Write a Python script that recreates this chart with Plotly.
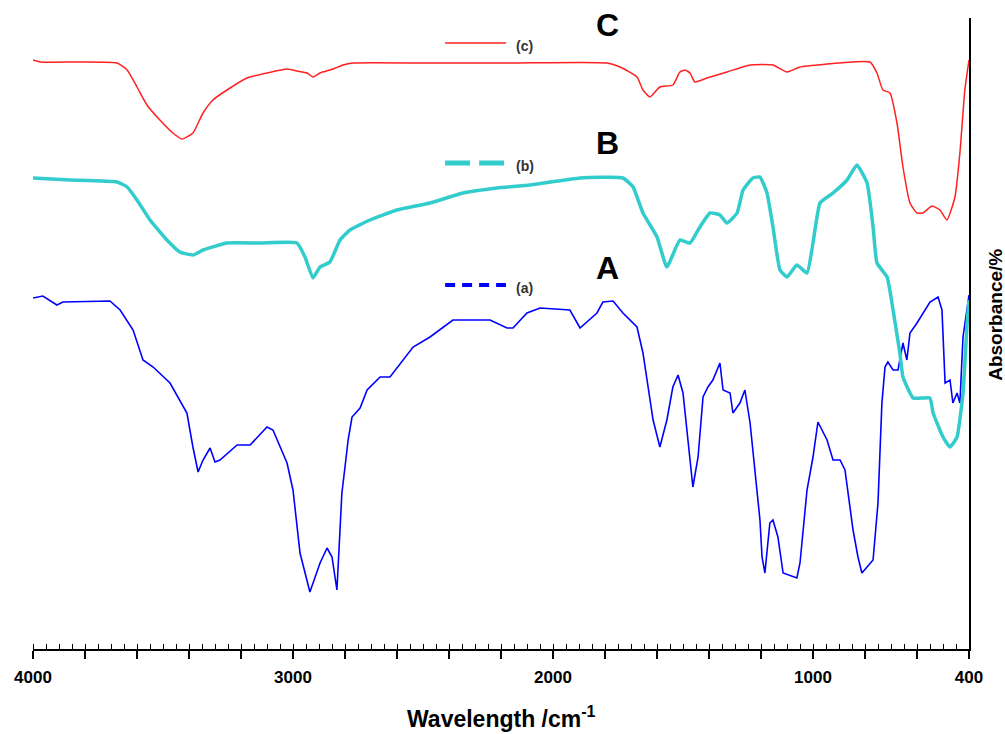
import plotly.graph_objects as go

# ---- data (wavenumber, cm-1) and relative absorbance (a.u.) ----
wn_c = [4000, 3973, 3677, 3638, 3600, 3562, 3512, 3462, 3427, 3385, 3346, 3308, 3254, 3177, 3100,
        3023, 2985, 2946, 2923, 2896, 2846, 2808, 2769, 2485, 2165, 1792, 1742, 1677, 1654, 1627,
        1589, 1539, 1512, 1492, 1473, 1454, 1408, 1331, 1242, 1154, 1100, 1050, 946, 846, 781,
        754, 731, 704, 677, 654, 627, 600, 577, 542, 512, 485, 454, 435, 416, 400]
ab_c = [589, 587, 586, 579, 562, 544, 529, 516, 510, 516, 536, 549, 559, 571, 576,
        580, 578, 576, 572, 576, 580, 584, 586, 586, 586, 586, 582, 572, 559, 552,
        562, 564, 577, 579, 576, 567, 571, 577, 584, 584, 577, 582, 585, 587, 587,
        576, 559, 556, 526, 482, 446, 436, 436, 443, 439, 429, 452, 496, 559, 589]

wn_b = [4000, 3858, 3677, 3638, 3600, 3550, 3485, 3435, 3385, 3346, 3254, 3127, 2985, 2954, 2923,
        2896, 2858, 2819, 2781, 2704, 2600, 2473, 2346, 2215, 2089, 1896, 1731, 1692, 1654, 1600,
        1562, 1512, 1473, 1435, 1396, 1358, 1331, 1292, 1269, 1231, 1204, 1177, 1154, 1127, 1100,
        1062, 1023, 1000, 973, 923, 869, 831, 792, 769, 754, 715, 692, 666, 654, 615,
        577, 550, 538, 500, 473, 446, 423, 408, 400]
ab_b = [471, 469, 467, 462, 449, 429, 409, 397, 394, 399, 406, 406, 406, 392, 371,
        382, 387, 409, 419, 429, 439, 446, 456, 461, 464, 471, 471, 462, 436, 412,
        382, 409, 406, 422, 436, 434, 426, 436, 459, 471, 472, 456, 422, 379, 372,
        384, 376, 406, 446, 456, 469, 484, 466, 422, 386, 372, 339, 296, 272, 251,
        251, 251, 236, 212, 202, 212, 256, 322, 349]

wn_a = [4000, 3962, 3908, 3885, 3704, 3665, 3615, 3577, 3538, 3473, 3408, 3385, 3365, 3346, 3319,
        3300, 3281, 3215, 3165, 3100, 3077, 3023, 3000, 2973, 2935, 2896, 2869, 2850, 2831, 2812,
        2800, 2788, 2773, 2742, 2715, 2665, 2627, 2538, 2473, 2385, 2242, 2177, 2154, 2100, 2050,
        1935, 1896, 1831, 1808, 1769, 1731, 1677, 1654, 1615, 1589, 1562, 1539, 1519, 1500, 1481,
        1462, 1442, 1427, 1423, 1404, 1385, 1358, 1346, 1319, 1308, 1281, 1262, 1242, 1223, 1204,
        1196, 1185, 1166, 1154, 1135, 1115, 1062, 1050, 1023, 1000, 981, 946, 923, 896, 877,
        858, 846, 827, 812, 769, 750, 735, 723, 712, 692, 673, 654, 639, 627, 600,
        577, 550, 519, 504, 492, 473, 462, 446, 435, 423, 400]
ab_a = [351, 353, 344, 347, 348, 339, 319, 289, 282, 266, 236, 202, 177, 189, 201,
        187, 189, 204, 204, 222, 219, 186, 159, 96, 57, 86, 101, 92, 59, 156,
        182, 209, 232, 241, 259, 272, 272, 302, 312, 329, 329, 321, 321, 336, 341,
        339, 321, 336, 347, 348, 336, 322, 296, 229, 202, 229, 262, 274, 256, 212,
        162, 192, 239, 252, 262, 269, 286, 259, 256, 236, 246, 259, 226, 179, 129,
        92, 76, 126, 129, 112, 76, 71, 86, 159, 192, 227, 209, 189, 189, 179,
        139, 119, 92, 76, 89, 146, 246, 282, 287, 279, 279, 306, 289, 316, 326,
        336, 347, 352, 339, 266, 269, 246, 256, 246, 312, 354]

major_vals = list(range(4000, 399, -200))
labels = {4000: "4000", 3000: "3000", 2000: "2000", 1000: "1000", 400: "400"}
major_text = [labels.get(v, " ") for v in major_vals]

FONT = "Arial, Liberation Sans, sans-serif"

fig = go.Figure()
fig.add_trace(go.Scatter(x=wn_a, y=ab_a, mode="lines", line=dict(color="#0000FF", width=1.6),
                         name="(a)", showlegend=False))
fig.add_trace(go.Scatter(x=wn_b, y=ab_b, mode="lines",
                         line=dict(color="#33CCCC", width=3.5, shape="spline", smoothing=0.4),
                         name="(b)", showlegend=False))
fig.add_trace(go.Scatter(x=wn_c, y=ab_c, mode="lines",
                         line=dict(color="#FF2020", width=1.5, shape="spline", smoothing=0.5),
                         name="(c)", showlegend=False))

# legend samples
leg = [("(c)", "#FF2020", 1.5, "solid", 606),
       ("(b)", "#33CCCC", 5, "25px,9px", 486),
       ("(a)", "#0000FF", 4, "10px,7px", 364)]
for txt, col, w, dash, yv in leg:
    fig.add_shape(type="line", xref="x", yref="y", x0=2415, x1=2181, y0=yv, y1=yv,
                  line=dict(color=col, width=w, dash=dash))
    fig.add_annotation(x=2150, y=yv - 3, xref="x", yref="y", text="<b>" + txt + "</b>",
                       showarrow=False, xanchor="left", yanchor="middle",
                       font=dict(family=FONT, size=14, color="#333333"))

for letter, yv in [("C", 624), ("B", 506), ("A", 381)]:
    fig.add_annotation(x=1790, y=yv, xref="x", yref="y", text="<b>" + letter + "</b>",
                       showarrow=False, xanchor="center", yanchor="middle",
                       font=dict(family=FONT, size=32, color="black"))

fig.add_annotation(x=0.501, y=-0.108, xref="paper", yref="paper",
                   text="<b>Wavelength /cm<sup>-1</sup></b>", showarrow=False,
                   xanchor="center", yanchor="middle",
                   font=dict(family=FONT, size=23, color="black"))
fig.add_annotation(x=1.028, y=0.53, xref="paper", yref="paper",
                   text="<b>Absorbance/%</b>", showarrow=False, textangle=-90,
                   xanchor="center", yanchor="middle",
                   font=dict(family=FONT, size=19, color="black"))

fig.update_layout(
    width=1005, height=734,
    margin=dict(l=33, r=36, t=18, b=85),
    paper_bgcolor="white", plot_bgcolor="white",
    showlegend=False,
    xaxis=dict(range=[4000, 400], autorange=False, showgrid=False, zeroline=False,
               showline=True, linecolor="black", linewidth=2,
               tickmode="array", tickvals=major_vals, ticktext=major_text,
               ticks="outside", ticklen=8, tickwidth=1.5, tickcolor="black",
               ticklabelstandoff=4,
               tickfont=dict(family=FONT, size=17, color="black", weight="bold"),
               minor=dict(ticks="inside", dtick=50, tick0=400, ticklen=5, tickwidth=1.2,
                          tickcolor="black", showgrid=False)),
    yaxis=dict(range=[0, 631], autorange=False, showgrid=False, zeroline=False,
               side="right", showline=True, linecolor="black", linewidth=2,
               ticks="", showticklabels=False),
)

fig.write_html("out.html")
